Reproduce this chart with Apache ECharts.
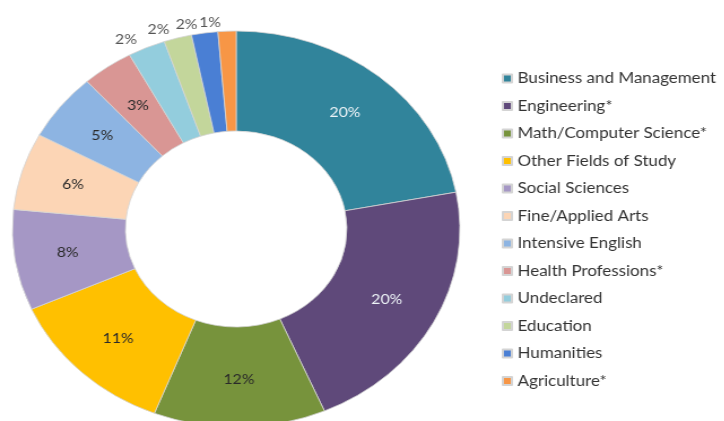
<!DOCTYPE html>
<html>
<head>
<meta charset="utf-8">
<script src="https://cdn.jsdelivr.net/npm/echarts@6/dist/echarts.min.js"></script>
<style>
  html, body { margin: 0; padding: 0; background: #fff; overflow: hidden; }
  #wrap { width: 724px; height: 421px; overflow: hidden; }
  /* picture is stretched sideways, so draw narrower and scale it */
  #chart { width: 641px; height: 421px; transform: scaleX(1.13); transform-origin: 0 0; }
</style>
</head>
<body>
<div id="wrap"><div id="chart"></div></div>
<script>
  const categories = ['Business and Management', 'Engineering*', 'Math/Computer Science*',
    'Other Fields of Study', 'Social Sciences', 'Fine/Applied Arts', 'Intensive English',
    'Health Professions*', 'Undeclared', 'Education', 'Humanities', 'Agriculture*']
  // slice shares
  const shares = [22, 21.5, 12.4, 12.4, 8.2, 6.3, 5.5, 3.7, 2.7, 2.0, 1.9, 1.3]
  // printed labels
  const labels = ['20%', '20%', '12%', '11%', '8%', '6%', '5%', '3%', '2%', '2%', '2%', '1%']
  const colors = ['#31849b', '#5f497a', '#77933c', '#ffc000', '#a597c5', '#fcd5b5',
    '#8db4e2', '#d99694', '#93cddd', '#c3d69b', '#4a7fd4', '#f79646']

  let chart = echarts.init(document.getElementById('chart'))

  let data = categories.map((name, i) => {
    let item = { name: name, value: shares[i], itemStyle: { color: colors[i] } }
    if (i >= 8) {
      item.label = { position: 'outside', color: '#555' }
    } else if (i < 2) {
      item.label = { color: '#eef4f8' }
    }
    return item
  })

  let option = {
    animation: false,
    legend: {
      orient: 'vertical',
      left: 439,
      top: 66,
      itemWidth: 8,
      itemHeight: 8,
      itemGap: 12.5,
      icon: 'rect',
      textStyle: { fontFamily: 'Lato', fontSize: 15, color: '#333' },
      data: categories
    },
    series: [{
      type: 'pie',
      center: [209, 229],
      radius: [98, 198],
      startAngle: 90,
      avoidLabelOverlap: false,
      itemStyle: { borderColor: '#d4d4d4', borderWidth: 0.8 },
      label: {
        show: true,
        position: 'inside',
        fontFamily: 'Lato',
        fontSize: 14,
        color: '#2a2a2a',
        formatter: p => labels[p.dataIndex]
      },
      labelLine: { show: false, length: 9, length2: 0 },
      data: data
    }]
  }
  chart.setOption(option)
</script>
</body>
</html>
